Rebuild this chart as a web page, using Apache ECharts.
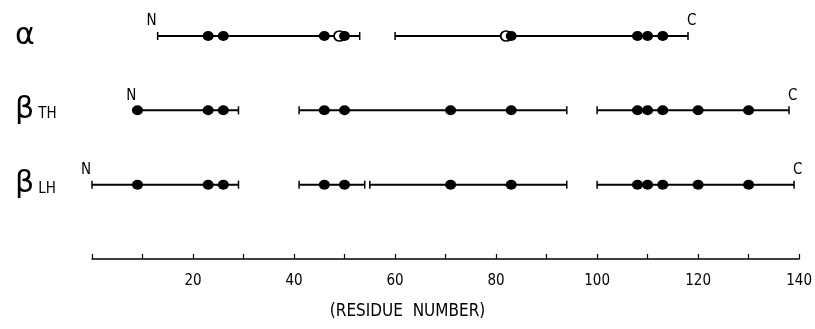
<!DOCTYPE html>
<html>
<head>
<meta charset="utf-8">
<script src="https://cdn.jsdelivr.net/npm/echarts@6/dist/echarts.min.js"></script>
<style>html,body{margin:0;padding:0;background:#fff;}#c{width:815px;height:329px;}</style>
</head>
<body>
<div id="c"></div>
<script>
// ---- data ----
const rowValues = [3, 2, 1];
const rowGreek = ['α', 'β', 'β'];
const rowSub = ['', 'TH', 'LH'];

const alphaSegments = [[13, 53], [60, 118]];
const alphaFilled = [23, 26, 46, 50, 83, 108, 110, 113];
const alphaOpen = [49, 82];

const betaTHSegments = [[9, 29], [41, 94], [100, 138]];
const betaTHFilled = [9, 23, 26, 46, 50, 71, 83, 108, 110, 113, 120, 130];
const betaTHOpen = [];

const betaLHSegments = [[0, 29], [41, 54], [55, 94], [100, 139]];
const betaLHFilled = [9, 23, 26, 46, 50, 71, 83, 108, 110, 113, 120, 130];
const betaLHOpen = [];

const nTerminus = [13, 9, 0];
const cTerminus = [118, 138, 139];

const tickLabels = ['20', '40', '60', '80', '100', '120', '140'];
const axisTitle = '(RESIDUE  NUMBER)';

// ---- build ----
const segs = [alphaSegments, betaTHSegments, betaLHSegments];
const filled = [alphaFilled, betaTHFilled, betaLHFilled];
const opens = [alphaOpen, betaTHOpen, betaLHOpen];

const segData = [], filledData = [], openData = [], termData = [];
rowValues.forEach((r, i) => {
  segs[i].forEach(s => segData.push([s[0], s[1], r]));
  filled[i].forEach(v => filledData.push([v, r]));
  opens[i].forEach(v => openData.push([v, r]));
  termData.push([nTerminus[i], r, 'N']);
  termData.push([cTerminus[i], r, 'C']);
});

const FONT = '"DejaVu Sans Condensed", "Liberation Sans", sans-serif';

const chart = echarts.init(document.getElementById('c'), null, {renderer: 'canvas'});
chart.setOption({
  animation: false,
  backgroundColor: '#fff',
  grid: {left: 92, right: 15, top: 36, bottom: 70},
  xAxis: {
    type: 'value', min: 0, max: 140, interval: 10,
    axisLine: {show: true, lineStyle: {color: '#000', width: 1.5}},
    axisTick: {show: true, inside: true, length: 5, lineStyle: {color: '#000', width: 1.2}},
    splitLine: {show: false},
    axisLabel: {
      margin: 15, color: '#000', fontSize: 15, fontFamily: FONT,
      formatter: v => (v > 0 && v % 20 === 0) ? tickLabels[v / 20 - 1] : ''
    },
    name: axisTitle, nameLocation: 'middle', nameGap: 44,
    nameTextStyle: {color: '#000', fontSize: 17, fontFamily: FONT, padding: [0, 76, 0, 0]}
  },
  yAxis: {
    type: 'value', min: 0, max: 3, interval: 1,
    axisLine: {show: false}, axisTick: {show: false}, splitLine: {show: false},
    axisLabel: {
      align: 'left', margin: 77,
      formatter: v => {
        const i = rowValues.indexOf(v);
        if (i < 0) return '';
        return '{g|' + rowGreek[i] + '}' + (rowSub[i] ? '{s|' + rowSub[i] + '}' : '');
      },
      rich: {
        g: {fontSize: 30, fontFamily: '"DejaVu Sans", sans-serif', color: '#000'},
        s: {fontSize: 15, fontFamily: FONT, color: '#000', padding: [8, 0, 0, 4]}
      }
    }
  },
  series: [
    {
      type: 'custom', data: segData, clip: false, z: 1,
      renderItem: (params, api) => {
        const a = api.coord([api.value(0), api.value(2)]);
        const b = api.coord([api.value(1), api.value(2)]);
        const st = {stroke: '#000', lineWidth: 2};
        return {type: 'group', children: [
          {type: 'line', shape: {x1: a[0], y1: a[1], x2: b[0], y2: b[1]}, style: st},
          {type: 'line', shape: {x1: a[0], y1: a[1] - 4, x2: a[0], y2: a[1] + 4}, style: {stroke: '#000', lineWidth: 1.5}},
          {type: 'line', shape: {x1: b[0], y1: b[1] - 4, x2: b[0], y2: b[1] + 4}, style: {stroke: '#000', lineWidth: 1.5}}
        ]};
      }
    },
    {
      type: 'scatter', data: openData, symbol: 'circle', symbolSize: [11, 10], z: 2,
      itemStyle: {color: '#fff', borderColor: '#000', borderWidth: 1.8, opacity: 1}
    },
    {
      type: 'scatter', data: filledData, symbol: 'circle', symbolSize: [11, 10], z: 3,
      itemStyle: {color: '#000', opacity: 1}
    },
    {
      type: 'custom', data: termData, clip: false, z: 4,
      renderItem: (params, api) => {
        const p = api.coord([api.value(0), api.value(1)]);
        const isN = api.value(2) === 'N';
        return {
          type: 'text',
          x: p[0] - 1,
          y: p[1] - 7,
          style: {
            text: isN ? 'N' : 'C', fill: '#000', fontSize: 15, fontFamily: FONT,
            align: isN ? 'right' : 'left', verticalAlign: 'bottom'
          }
        };
      }
    }
  ]
});
</script>
</body>
</html>
